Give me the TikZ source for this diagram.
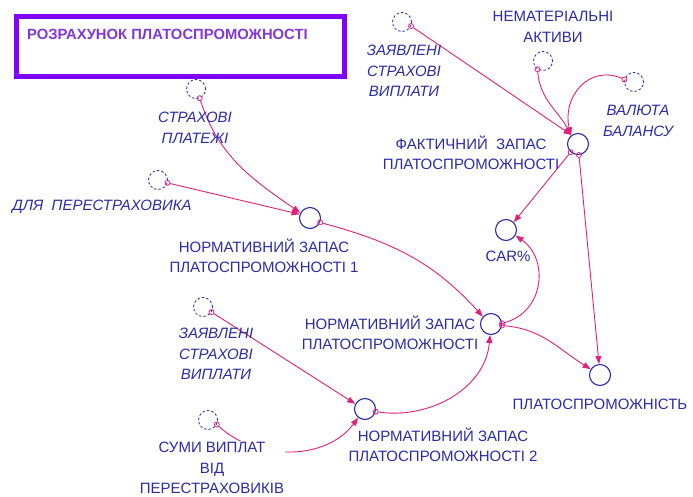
\documentclass[tikz,border=0pt]{standalone}
\usepackage{fontspec}
\setmainfont{Liberation Sans}
\usetikzlibrary{arrows.meta, positioning, backgrounds}
\definecolor{varblue}{HTML}{2B2BA8}
\definecolor{linkpink}{HTML}{E0207A}
\definecolor{titleviolet}{HTML}{8000FF}
\definecolor{titletext}{HTML}{8038D8}

\begin{document}
\begin{tikzpicture}[
    x=1pt, y=-1pt,
    var/.style={circle, draw=varblue, line width=1.1pt, minimum size=21pt, inner sep=0pt},
    shadow/.style={circle, draw=varblue, dashed, dash pattern=on 2.5pt off 2pt, line width=0.8pt, minimum size=19pt, inner sep=0pt},
    tail/.style={circle, draw=linkpink, line width=0.8pt, minimum size=5pt, inner sep=0pt},
    lbl/.style={font=\fontsize{15}{20.5}\selectfont, text=varblue, align=center, inner sep=0pt},
    ilbl/.style={lbl, font=\fontsize{15}{20.5}\selectfont\itshape},
    link/.style={-{Triangle[length=8pt, width=6pt]}, draw=linkpink, line width=0.9pt}
]
\useasboundingbox (0,0) rectangle (693,496);

% Title
\node[draw=titleviolet, line width=5pt, minimum width=328pt, minimum height=60pt] (title) at (180,46) {};
\node[anchor=west, font=\fontsize{14.8}{16}\selectfont\bfseries, text=titletext, inner sep=0pt] (titletxt) at (27,34) {РОЗРАХУНОК ПЛАТОСПРОМОЖНОСТІ};

% Variables
\node[var] (nz1) at (310,218) {};
\node[var] (fz) at (578,144) {};
\node[var] (car) at (506,230) {};
\node[var] (nz) at (491,324) {};
\node[var] (pl) at (600,375) {};
\node[var] (nz2) at (365,409) {};

% Shadow variables
\node[shadow] (sp) at (196,89) {};
\node[shadow] (dp) at (158,180) {};
\node[shadow] (zv1) at (402,22) {};
\node[shadow] (na) at (543,61) {};
\node[shadow] (vb) at (634,82) {};
\node[shadow] (zv2) at (203,307) {};
\node[shadow] (sv) at (208,420) {};

% Labels
\node[lbl] (nz1lbl) at (264,256) {НОРМАТИВНИЙ ЗАПАС\\ПЛАТОСПРОМОЖНОСТІ 1};
\node[lbl] (fzlbl) at (471,153) {ФАКТИЧНИЙ \ ЗАПАС\\ПЛАТОСПРОМОЖНОСТІ};
\node[lbl] (carlbl) at (508,256) {CAR\%};
\node[lbl] (nzlbl) at (390,333) {НОРМАТИВНИЙ ЗАПАС\\ПЛАТОСПРОМОЖНОСТІ};
\node[lbl] (pllbl) at (600,404) {ПЛАТОСПРОМОЖНІСТЬ};
\node[lbl] (nz2lbl) at (443,445) {НОРМАТИВНИЙ ЗАПАС\\ПЛАТОСПРОМОЖНОСТІ 2};
\node[ilbl] (splbl) at (195,128) {СТРАХОВІ\\ПЛАТЕЖІ};
\node[ilbl] (dplbl) at (102,207) {ДЛЯ \ ПЕРЕСТРАХОВИКА};
\node[ilbl] (zv1lbl) at (404,71) {ЗАЯВЛЕНІ\\СТРАХОВІ\\ВИПЛАТИ};
\node[lbl] (nalbl) at (553,27) {НЕМАТЕРІАЛЬНІ\\АКТИВИ};
\node[ilbl] (vblbl) at (638,121) {ВАЛЮТА\\БАЛАНСУ};
\node[ilbl] (zv2lbl) at (216,354) {ЗАЯВЛЕНІ\\СТРАХОВІ\\ВИПЛАТИ};
\node[lbl, fill=white, inner sep=1pt] (svlbl) at (212,468) {СУМИ ВИПЛАТ\\ВІД\\ПЕРЕСТРАХОВИКІВ};

% Link tails
\node[tail] (t1) at (sp.-68) {};
\node[tail] (t2) at (dp.-17) {};
\node[tail] (t3) at (zv1.-24) {};
\node[tail] (t4) at (na.-124) {};
\node[tail] (t5) at (vb.165) {};
\node[tail] (t6) at (zv2.-31) {};
\node[tail] (t7) at (sv.-27) {};
\node[tail] (t8) at (nz1.-24) {};
\node[tail] (t9) at (nz2.-14) {};
\node[tail] (t10) at (fz.-132) {};
\node[tail] (t11) at (fz.-85) {};
\node[tail] (t12) at (nz.4) {};
\node[tail] (t13) at (nz.-8) {};

% Links
\begin{scope}[on background layer]
\draw[link] (t1) to[out=-72, in=145] (nz1.152);
\draw[link] (t2) -- (nz1.160);
\draw[link] (t8) to[out=-15, in=132] (nz.138);
\draw[link] (t9) to[out=-8, in=-95] (nz.-95);
\draw[link] (t6) -- (nz2.152);
\draw[link] (t7) .. controls (255,460) and (325,462) .. (nz2.-128);
\draw[link] (t3) -- (fz.126);
\draw[link] (t4) to[out=-85, in=118] (fz.128);
\draw[link] (t5) .. controls (588,64) and (562,98) .. (fz.130);
\draw[link] (t10) -- (car.45);
\draw[link] (t11) -- (pl.95);
\draw[link] (t12) to[out=15, in=-35, looseness=1.2] (car.-30);
\draw[link] (t13) to[out=-5, in=148] (pl.148);
\end{scope}

\end{tikzpicture}
\end{document}
